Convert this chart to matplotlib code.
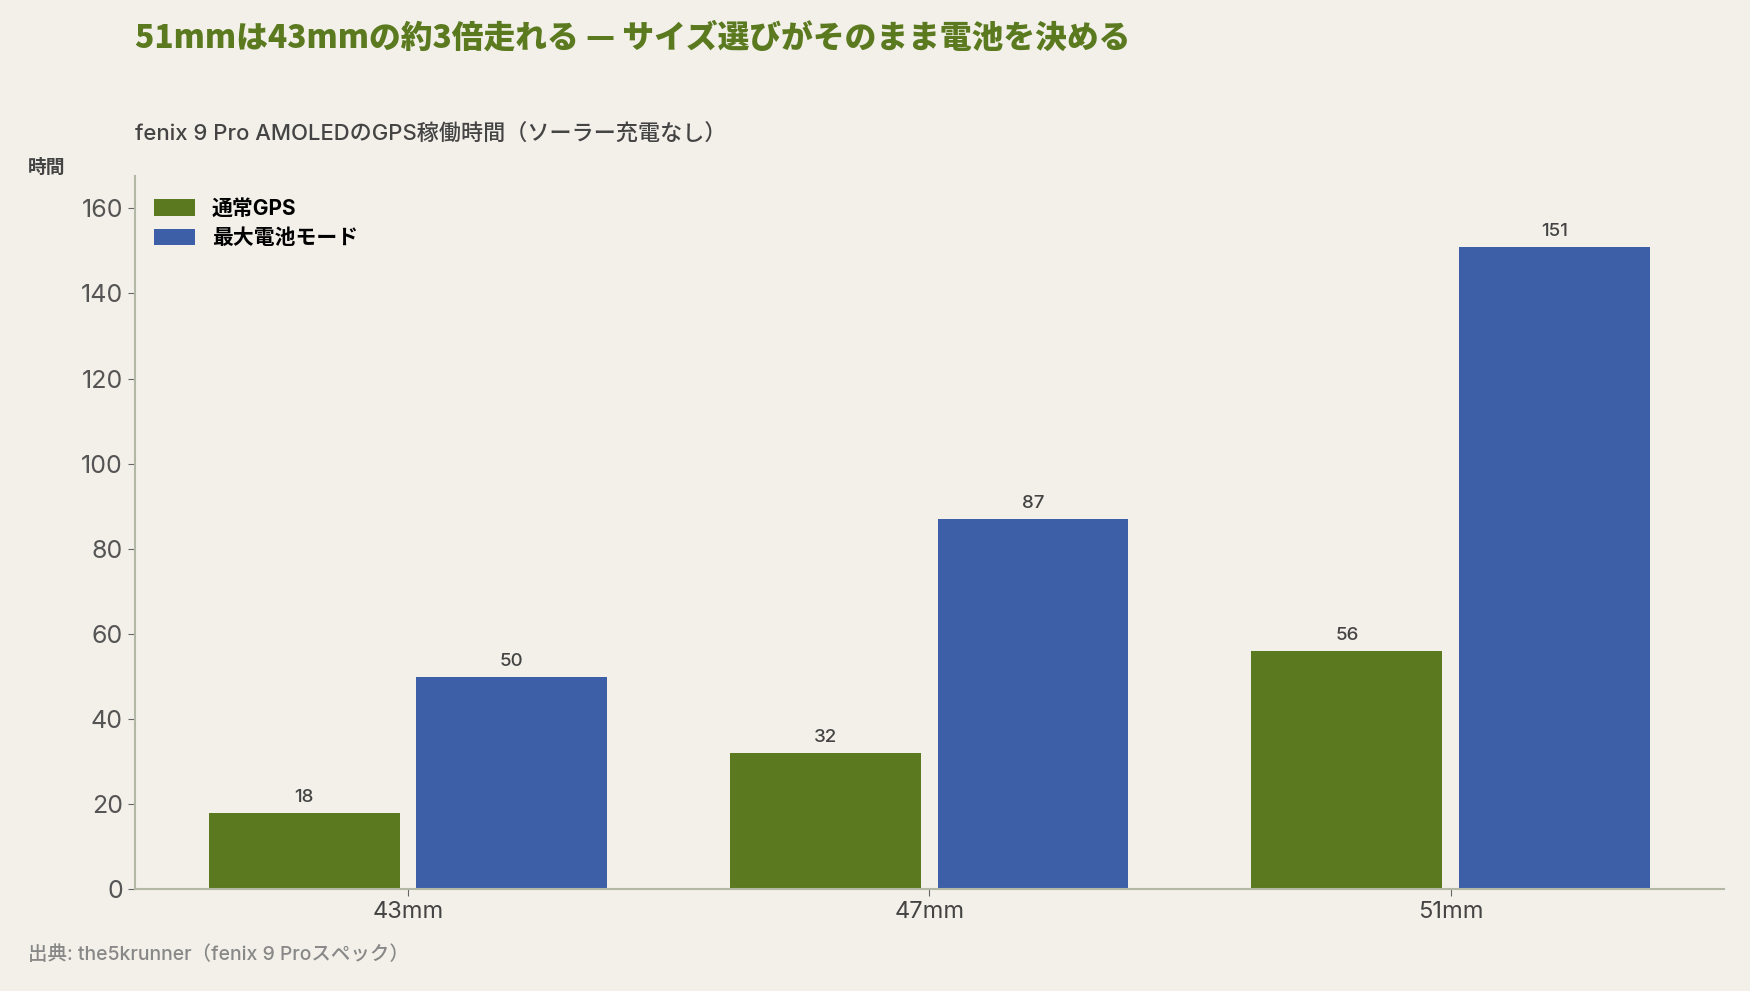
import numpy as np
import matplotlib
matplotlib.use("Agg")
import matplotlib.pyplot as plt

# Latin glyphs from Inter, Japanese falls back to Noto Sans CJK
plt.rcParams['font.family'] = ['Inter', 'Noto Sans CJK JP', 'DejaVu Sans']

# data
sizes = ["43mm", "47mm", "51mm"]
normal_gps = [18, 32, 56]
max_battery = [50, 87, 151]
series_names = ["通常GPS", "最大電池モード"]

bg = "#f2f0e9"
green = "#5b7a1f"
blue = "#3d5fa8"
text_dark = "#444444"
spine_col = "#b3b8a6"

fig = plt.figure(figsize=(17.5, 9.91), dpi=100, facecolor=bg)
ax = fig.add_axes([0.077, 0.1025, 0.908, 0.72], facecolor=bg)

x = np.arange(len(sizes))
w = 0.366
off = 0.199
b1 = ax.bar(x - off, normal_gps, w, color=green, label=series_names[0])
b2 = ax.bar(x + off, max_battery, w, color=blue, label=series_names[1])

for bars in (b1, b2):
    for r in bars:
        ax.annotate(f"{r.get_height():g}", (r.get_x() + r.get_width() / 2, r.get_height()),
                    xytext=(0, 5), textcoords="offset points", ha="center", va="bottom",
                    fontsize=13.5, color=text_dark, fontweight="medium")

ax.set_xlim(-0.524, 2.524)
ax.set_ylim(0, 167.6)
ax.set_yticks(range(0, 161, 20))
ax.set_xticks(x)
ax.set_xticklabels(sizes)
ax.tick_params(axis="x", labelsize=17, colors=text_dark, length=5, color="#666666")
ax.tick_params(axis="y", labelsize=18, colors="#555555", length=5, color="#666666")

for s in ("top", "right"):
    ax.spines[s].set_visible(False)
for s in ("left", "bottom"):
    ax.spines[s].set_color(spine_col)
    ax.spines[s].set_linewidth(1.5)

leg = ax.legend(loc="upper left", bbox_to_anchor=(0.0, 0.994), frameon=False,
                prop={"size": 15, "weight": "bold"}, handlelength=2.0, handleheight=0.85,
                labelspacing=0.45)

fig.text(0.077, 0.962, "51mmは43mmの約3倍走れる — サイズ選びがそのまま電池を決める",
         fontsize=22.85, fontweight="heavy", color=green, va="center",
         family=['Noto Sans CJK JP', 'DejaVu Sans'])
fig.text(0.077, 0.864, "fenix 9 Pro AMOLEDのGPS稼働時間（ソーラー充電なし）",
         fontsize=15.9, fontweight="medium", color=text_dark, va="center")
fig.text(0.016, 0.831, "時間", fontsize=13.5, fontweight="bold", color=text_dark, va="center")
fig.text(0.016, 0.037, "出典: the5krunner（fenix 9 Proスペック）",
         fontsize=14, fontweight="medium", color="#888888", va="center")

fig.savefig("out.png", dpi=100, facecolor=bg)
